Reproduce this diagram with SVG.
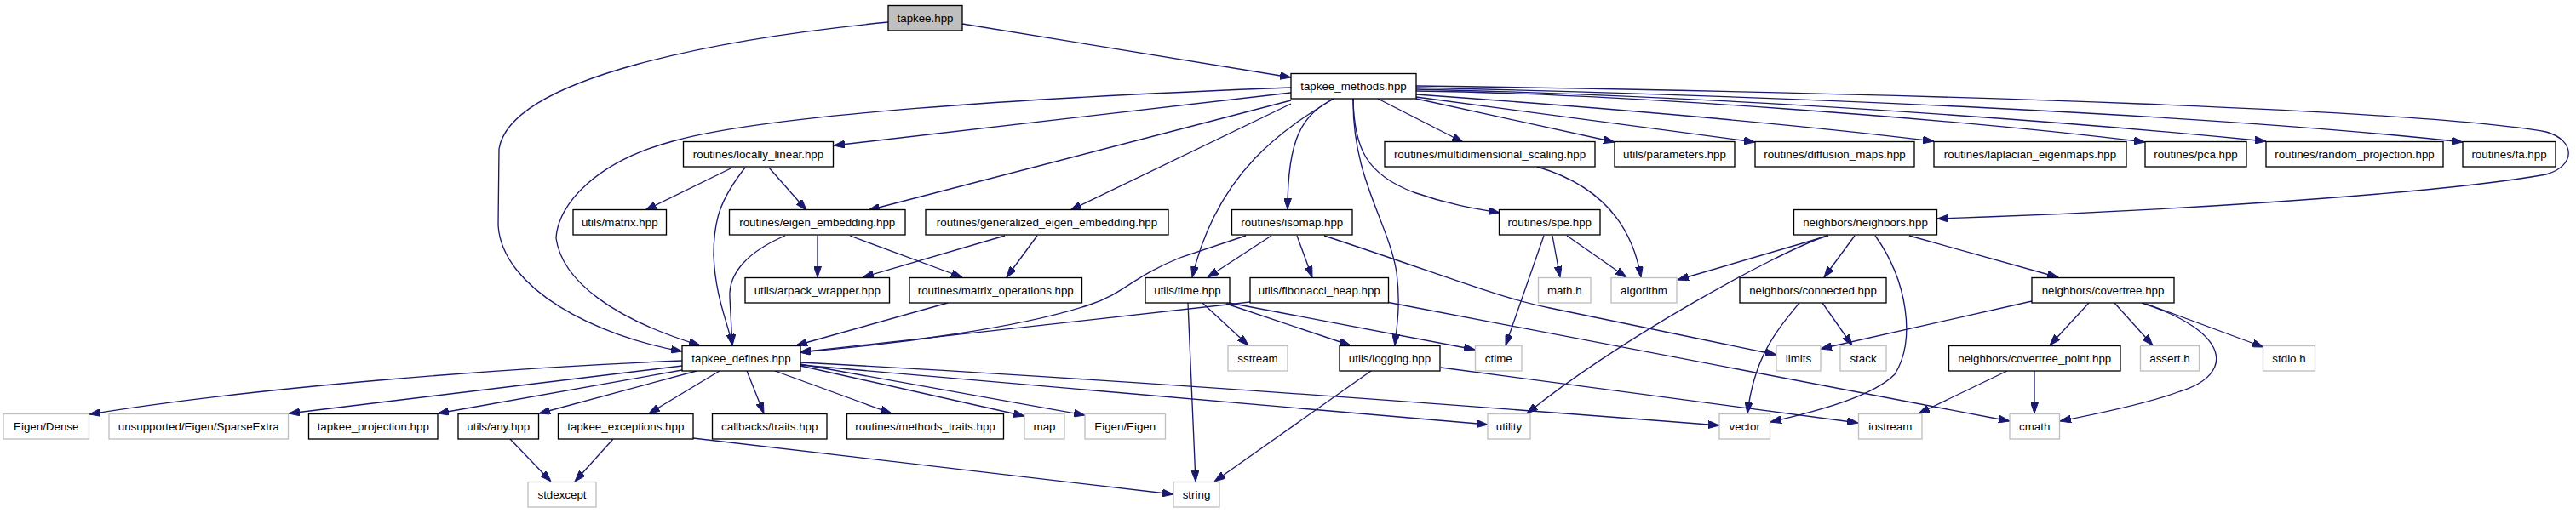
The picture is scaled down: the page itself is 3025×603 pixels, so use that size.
<svg xmlns="http://www.w3.org/2000/svg" width="3025" height="603" viewBox="0 0 3025 603">
<style>
.bg{fill:#ffffff}
.n rect{fill:#ffffff;stroke:#000000;stroke-width:1.33}
.n.root rect{fill:#bfbfbf}
.n.ext rect{fill:#ffffff;stroke:#bfbfbf;stroke-width:1.33}
.n text{font-family:"Liberation Sans",Arial,Helvetica,sans-serif;font-size:13.33px;fill:#000000;text-anchor:middle}
#edges path{fill:none;stroke:#191970;stroke-width:1.33;marker-end:url(#arr)}
</style>
<defs>
<marker id="arr" viewBox="0 0 13 9" refX="13" refY="4.5" markerWidth="13" markerHeight="9" markerUnits="userSpaceOnUse" orient="auto">
<path d="M0,0 L13,4.5 L0,9 z" fill="#191970" stroke="#191970" stroke-width="1"/>
</marker>
</defs>
<rect class="bg" x="0" y="0" width="3025" height="603"/>
<g id="edges">
<path d="M1130,28 L1516,91"/>
<path d="M1043,26 C850,45 600,90 586,175 L585,265 C590,340 700,395 801,413"/>
<path d="M1516,103 C1200,115 900,135 790,166 C700,190 655,240 653,280 C660,330 720,375 822,406"/>
<path d="M1516,109 L979,171"/>
<path d="M1516,118 L1020,247"/>
<path d="M1516,122 L1257,247"/>
<path d="M1566,116 C1530,135 1512,160 1512,246"/>
<path d="M1566,116 C1510,150 1430,200 1400,326"/>
<path d="M1589,116 C1588,210 1630,260 1640,320 C1645,360 1640,385 1638,406"/>
<path d="M1589,116 C1590,175 1605,205 1660,226 C1700,240 1730,245 1761,250"/>
<path d="M1618,116 L1718,167"/>
<path d="M1663,116 L1896,167"/>
<path d="M1663,114 L2061,167"/>
<path d="M1663,111 C1900,128 2100,145 2271,166"/>
<path d="M1663,107 C1900,110 2300,140 2519,167"/>
<path d="M1663,105 C2000,112 2400,140 2661,166"/>
<path d="M1663,103 C2100,113 2600,135 2892,167"/>
<path d="M1663,101 C2300,110 2850,130 2990,155 C3025,165 3025,195 2990,205 C2850,230 2500,250 2275,257"/>
<path d="M860,197 L758,247"/>
<path d="M903,197 L947,247"/>
<path d="M875,197 C845,235 838,260 838,300 C840,350 855,380 860,406"/>
<path d="M960,277 L960,326"/>
<path d="M922,277 C880,295 855,320 857,350 L860,406"/>
<path d="M998,277 L1130,326"/>
<path d="M1180,277 L1013,326"/>
<path d="M1218,277 L1182,326"/>
<path d="M1113,356 L935,406"/>
<path d="M1463,277 L1388,302 C1330,325 1320,345 1280,358 C1200,385 1050,405 939,414"/>
<path d="M1468,355 L939,414"/>
<path d="M1493,277 L1418,326"/>
<path d="M1523,277 L1541,326"/>
<path d="M1555,277 C1700,325 1760,350 1820,362 L2086,417"/>
<path d="M1412,356 L1466,406"/>
<path d="M1395,356 L1404,566"/>
<path d="M1438,355 L1732,411"/>
<path d="M1440,357 L1586,406"/>
<path d="M1610,436 L1426,566"/>
<path d="M1692,432 C1900,460 2100,485 2182,497"/>
<path d="M1628,355 L2360,495"/>
<path d="M1813,277 L1768,406"/>
<path d="M1823,277 L1832,326"/>
<path d="M1840,277 L1910,326"/>
<path d="M1805,196 C1870,215 1915,255 1927,326"/>
<path d="M2147,277 L1970,329"/>
<path d="M2145,277 C2080,300 1900,400 1793,486"/>
<path d="M2178,277 L2142,326"/>
<path d="M2202,277 C2240,330 2250,400 2225,440 C2200,465 2140,482 2079,496"/>
<path d="M2242,277 L2417,326"/>
<path d="M2113,356 C2085,390 2060,420 2052,486"/>
<path d="M2140,356 L2175,406"/>
<path d="M2386,354 L2138,410"/>
<path d="M2453,356 L2407,406"/>
<path d="M2483,356 L2528,406"/>
<path d="M2520,357 L2658,408"/>
<path d="M2515,356 C2620,390 2625,440 2560,460 C2520,475 2460,487 2419,495"/>
<path d="M2389,436 L2389,486"/>
<path d="M2357,436 L2253,486"/>
<path d="M801,424 C600,432 300,455 105,487"/>
<path d="M801,430 L339,486"/>
<path d="M801,435 L514,486"/>
<path d="M818,436 L633,486"/>
<path d="M845,436 L762,486"/>
<path d="M877,436 L897,486"/>
<path d="M910,436 L1047,486"/>
<path d="M940,430 L1203,489"/>
<path d="M940,428 L1274,488"/>
<path d="M940,426 C1300,445 1700,475 2019,500"/>
<path d="M940,429 C1200,450 1500,480 1747,499"/>
<path d="M720,516 L675,566"/>
<path d="M814,515 L1378,581"/>
<path d="M599,516 L647,566"/>
</g>
<g id="n_tapkee_hpp" class="n root"><rect x="1043" y="6.5" width="87" height="29.5"/><text x="1086.5" y="25.5">tapkee.hpp</text></g>
<g id="n_tapkee_methods" class="n"><rect x="1516" y="86.5" width="147" height="29.5"/><text x="1589.5" y="105.5">tapkee_methods.hpp</text></g>
<g id="n_locally_linear" class="n"><rect x="802.5" y="166.5" width="176" height="29.5"/><text x="890.5" y="185.5">routines/locally_linear.hpp</text></g>
<g id="n_mds" class="n"><rect x="1626" y="166.5" width="247" height="29.5"/><text x="1749.5" y="185.5">routines/multidimensional_scaling.hpp</text></g>
<g id="n_parameters" class="n"><rect x="1896" y="166.5" width="141" height="29.5"/><text x="1966.5" y="185.5">utils/parameters.hpp</text></g>
<g id="n_diffusion" class="n"><rect x="2061" y="166.5" width="187" height="29.5"/><text x="2154.5" y="185.5">routines/diffusion_maps.hpp</text></g>
<g id="n_laplacian" class="n"><rect x="2271" y="166.5" width="226" height="29.5"/><text x="2384" y="185.5">routines/laplacian_eigenmaps.hpp</text></g>
<g id="n_pca" class="n"><rect x="2519" y="166.5" width="119" height="29.5"/><text x="2578.5" y="185.5">routines/pca.hpp</text></g>
<g id="n_random" class="n"><rect x="2661" y="166.5" width="208" height="29.5"/><text x="2765" y="185.5">routines/random_projection.hpp</text></g>
<g id="n_fa" class="n"><rect x="2892" y="166.5" width="109" height="29.5"/><text x="2946.5" y="185.5">routines/fa.hpp</text></g>
<g id="n_matrix" class="n"><rect x="673" y="246.5" width="109.5" height="29.5"/><text x="727.75" y="265.5">utils/matrix.hpp</text></g>
<g id="n_eigen_embedding" class="n"><rect x="856.5" y="246.5" width="206.5" height="29.5"/><text x="959.75" y="265.5">routines/eigen_embedding.hpp</text></g>
<g id="n_generalized" class="n"><rect x="1087" y="246.5" width="285" height="29.5"/><text x="1229.5" y="265.5">routines/generalized_eigen_embedding.hpp</text></g>
<g id="n_isomap" class="n"><rect x="1446.5" y="246.5" width="141.5" height="29.5"/><text x="1517.25" y="265.5">routines/isomap.hpp</text></g>
<g id="n_spe" class="n"><rect x="1760.5" y="246.5" width="118.5" height="29.5"/><text x="1819.75" y="265.5">routines/spe.hpp</text></g>
<g id="n_neighbors" class="n"><rect x="2106.5" y="246.5" width="168" height="29.5"/><text x="2190.5" y="265.5">neighbors/neighbors.hpp</text></g>
<g id="n_arpack" class="n"><rect x="875" y="326.5" width="169.5" height="29.5"/><text x="959.75" y="345.5">utils/arpack_wrapper.hpp</text></g>
<g id="n_matrix_ops" class="n"><rect x="1068" y="326.5" width="202.5" height="29.5"/><text x="1169.25" y="345.5">routines/matrix_operations.hpp</text></g>
<g id="n_time" class="n"><rect x="1345" y="326.5" width="99" height="29.5"/><text x="1394.5" y="345.5">utils/time.hpp</text></g>
<g id="n_fibonacci" class="n"><rect x="1468" y="326.5" width="162.5" height="29.5"/><text x="1549.25" y="345.5">utils/fibonacci_heap.hpp</text></g>
<g id="n_math_h" class="n ext"><rect x="1806.5" y="326.5" width="61.5" height="29.5"/><text x="1837.25" y="345.5">math.h</text></g>
<g id="n_algorithm" class="n ext"><rect x="1892" y="326.5" width="77" height="29.5"/><text x="1930.5" y="345.5">algorithm</text></g>
<g id="n_connected" class="n"><rect x="2043" y="326.5" width="172" height="29.5"/><text x="2129" y="345.5">neighbors/connected.hpp</text></g>
<g id="n_covertree" class="n"><rect x="2386" y="326.5" width="167" height="29.5"/><text x="2469.5" y="345.5">neighbors/covertree.hpp</text></g>
<g id="n_defines" class="n"><rect x="801" y="406.5" width="139" height="29.5"/><text x="870.5" y="425.5">tapkee_defines.hpp</text></g>
<g id="n_sstream" class="n ext"><rect x="1442" y="406.5" width="70" height="29.5"/><text x="1477" y="425.5">sstream</text></g>
<g id="n_logging" class="n"><rect x="1573" y="406.5" width="118" height="29.5"/><text x="1632" y="425.5">utils/logging.hpp</text></g>
<g id="n_ctime" class="n ext"><rect x="1732.5" y="406.5" width="54.5" height="29.5"/><text x="1759.75" y="425.5">ctime</text></g>
<g id="n_limits" class="n ext"><rect x="2086" y="406.5" width="52" height="29.5"/><text x="2112" y="425.5">limits</text></g>
<g id="n_stack" class="n ext"><rect x="2161" y="406.5" width="54" height="29.5"/><text x="2188" y="425.5">stack</text></g>
<g id="n_covertree_point" class="n"><rect x="2288.5" y="406.5" width="201.5" height="29.5"/><text x="2389.25" y="425.5">neighbors/covertree_point.hpp</text></g>
<g id="n_assert_h" class="n ext"><rect x="2513.5" y="406.5" width="69" height="29.5"/><text x="2548" y="425.5">assert.h</text></g>
<g id="n_stdio_h" class="n ext"><rect x="2657.5" y="406.5" width="61" height="29.5"/><text x="2688" y="425.5">stdio.h</text></g>
<g id="n_eigen_dense" class="n ext"><rect x="4" y="486.5" width="100.5" height="29.5"/><text x="54.25" y="505.5">Eigen/Dense</text></g>
<g id="n_sparse_extra" class="n ext"><rect x="128" y="486.5" width="210.5" height="29.5"/><text x="233.25" y="505.5">unsupported/Eigen/SparseExtra</text></g>
<g id="n_projection" class="n"><rect x="362.5" y="486.5" width="151.5" height="29.5"/><text x="438.25" y="505.5">tapkee_projection.hpp</text></g>
<g id="n_any" class="n"><rect x="538" y="486.5" width="94.5" height="29.5"/><text x="585.25" y="505.5">utils/any.hpp</text></g>
<g id="n_exceptions" class="n"><rect x="655.5" y="486.5" width="158.5" height="29.5"/><text x="734.75" y="505.5">tapkee_exceptions.hpp</text></g>
<g id="n_callbacks_traits" class="n"><rect x="836.5" y="486.5" width="134.5" height="29.5"/><text x="903.75" y="505.5">callbacks/traits.hpp</text></g>
<g id="n_methods_traits" class="n"><rect x="994.5" y="486.5" width="184" height="29.5"/><text x="1086.5" y="505.5">routines/methods_traits.hpp</text></g>
<g id="n_map" class="n ext"><rect x="1203" y="486.5" width="47" height="29.5"/><text x="1226.5" y="505.5">map</text></g>
<g id="n_eigen_eigen" class="n ext"><rect x="1274" y="486.5" width="94.5" height="29.5"/><text x="1321.25" y="505.5">Eigen/Eigen</text></g>
<g id="n_utility" class="n ext"><rect x="1747" y="486.5" width="50" height="29.5"/><text x="1772" y="505.5">utility</text></g>
<g id="n_vector" class="n ext"><rect x="2019" y="486.5" width="59.5" height="29.5"/><text x="2048.75" y="505.5">vector</text></g>
<g id="n_iostream" class="n ext"><rect x="2182.5" y="486.5" width="74.5" height="29.5"/><text x="2219.75" y="505.5">iostream</text></g>
<g id="n_cmath" class="n ext"><rect x="2360" y="486.5" width="58.5" height="29.5"/><text x="2389.25" y="505.5">cmath</text></g>
<g id="n_stdexcept" class="n ext"><rect x="620" y="566.5" width="80" height="29.5"/><text x="660" y="585.5">stdexcept</text></g>
<g id="n_string" class="n ext"><rect x="1378" y="566.5" width="54" height="29.5"/><text x="1405" y="585.5">string</text></g>
</svg>
